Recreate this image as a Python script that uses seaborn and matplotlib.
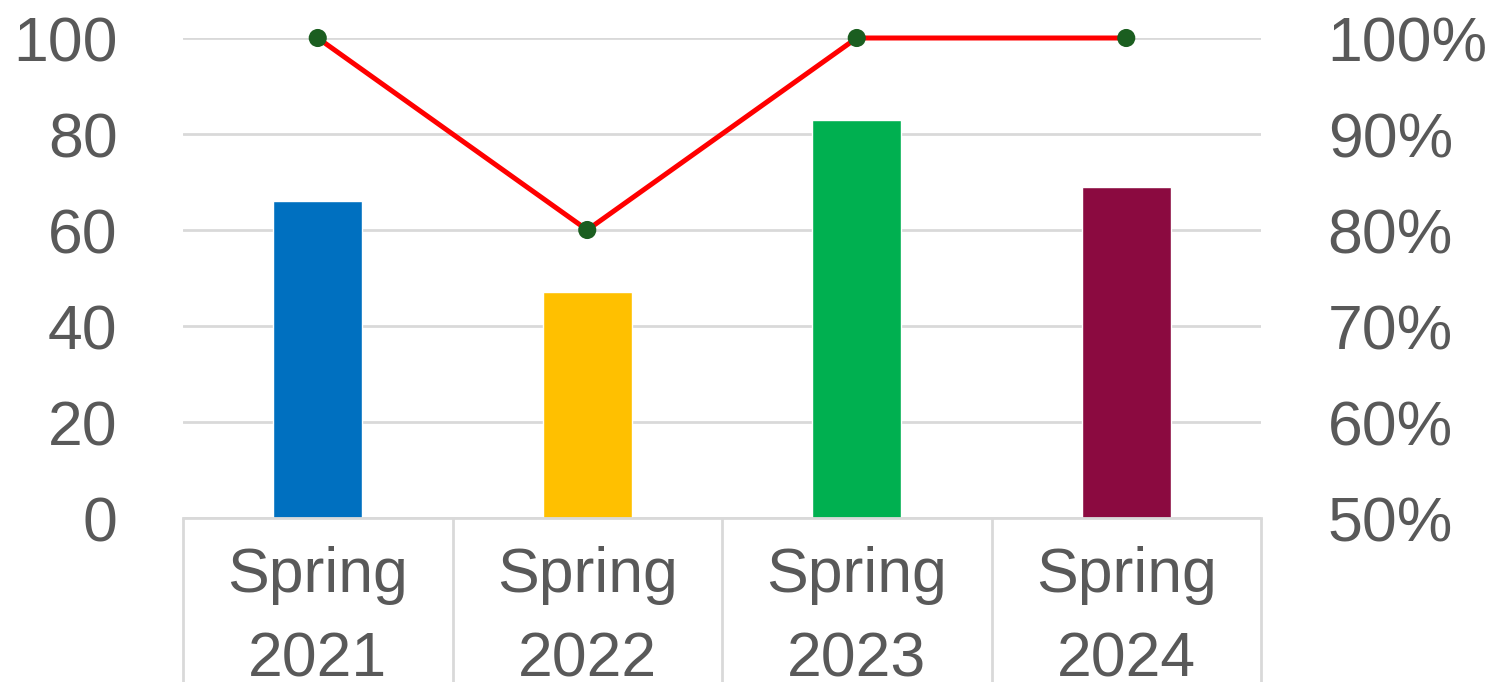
import numpy as np
import matplotlib
matplotlib.use("Agg")
import matplotlib.pyplot as plt
import seaborn as sns
from matplotlib.ticker import FuncFormatter

categories = ["Spring\n2021", "Spring\n2022", "Spring\n2023", "Spring\n2024"]
bar_values = [66, 47, 83, 69]
rate_values = [1.00, 0.80, 1.00, 1.00]
bar_colors = ["#0070C0", "#FFC000", "#00B050", "#8B0A40"]
left_ticks = [0, 20, 40, 60, 80, 100]
right_ticks = [0.5, 0.6, 0.7, 0.8, 0.9, 1.0]

sns.set_theme(style="white")
plt.rcParams["font.family"] = ["Liberation Sans", "DejaVu Sans"]
text_color = "#595959"
grid_color = "#D9D9D9"
fs = 45

fig = plt.figure(figsize=(15.04, 6.82), dpi=100)
ax = fig.add_axes([183/1504, 1-518/682, 1078/1504, 480/682])

sns.barplot(x=categories, y=bar_values, hue=categories, palette=bar_colors,
            width=0.33, legend=False, ax=ax, saturation=1)
ax.set_xlim(-0.5, 3.5)
ax.set_ylim(0, 100)
ax.set_yticks(left_ticks)
ax.yaxis.grid(True, color=grid_color, linewidth=2)
ax.set_axisbelow(True)
for s in ["top", "right", "left"]:
    ax.spines[s].set_visible(False)
ax.spines["bottom"].set_color(grid_color)
ax.spines["bottom"].set_linewidth(2)
ax.set_xlabel("")
ax.set_ylabel("")
ax.tick_params(axis="y", length=0, pad=47, labelsize=fs, labelcolor=text_color)
ax.tick_params(axis="x", which="major", bottom=False, length=0, pad=20,
               labelsize=fs, labelcolor=text_color)
ax.set_xticks(np.arange(-0.5, 4.0, 1.0), minor=True)
ax.tick_params(axis="x", which="minor", bottom=True, length=130, width=2,
               color=grid_color, direction="out")
for lbl in ax.get_xticklabels():
    lbl.set_linespacing(1.55)

ax2 = ax.twinx()
x_pos = np.arange(len(categories))
sns.lineplot(x=x_pos, y=rate_values, ax=ax2, color="#FF0000", linewidth=3.6,
             zorder=3, clip_on=False)
sns.scatterplot(x=x_pos, y=rate_values, ax=ax2, color="#1B5E20", s=170,
                edgecolor="none", zorder=4, clip_on=False)
ax2.set_ylim(0.5, 1.0)
ax2.set_yticks(right_ticks)
ax2.yaxis.set_major_formatter(FuncFormatter(lambda v, p: f"{v*100:.0f}%"))
ax2.tick_params(axis="y", length=0, pad=48, labelsize=fs, labelcolor=text_color)
for s in ["top", "right", "left", "bottom"]:
    ax2.spines[s].set_visible(False)
ax2.set_ylabel("")
ax2.grid(False)
ax2.set_xlim(-0.5, 3.5)

fig.savefig("out.png", dpi=100)
